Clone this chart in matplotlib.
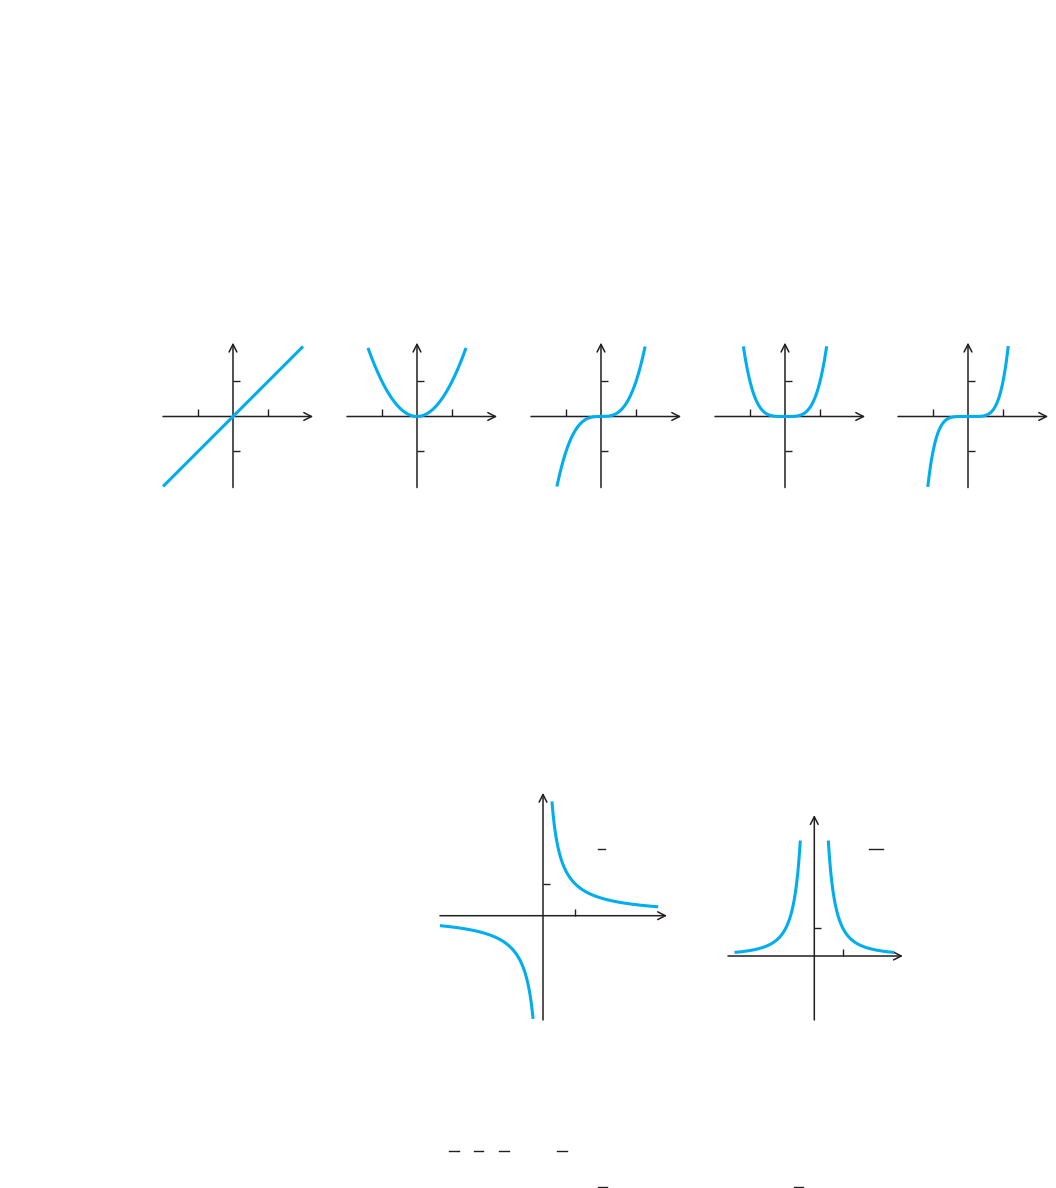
import matplotlib
matplotlib.use("Agg")
import numpy as np
import matplotlib.pyplot as plt
from matplotlib.lines import Line2D

W, H = 1056, 1188
BLUE = "#00aeef"
INK = "#231f20"

# top row: y = x^n
powers = [1, 2, 3, 4, 5]
power_xmax = [2.0, 1.4, 1.26, 1.19, 1.15]     # curve ends
power_origin_x = [233, 417, 601, 785, 968]    # pixel position of each y axis
power_origin_y = 416.5
power_unit = 35
power_xaxis = (-2.0, 2.29)
power_yaxis = (-2.03, 2.11)

# bottom row: y = 1/x and y = 1/x^2
recip_powers = [1, 2]
recip_left = [(-3.22, -0.31), (-2.82, -0.495)]
recip_right = [(0.28, 3.6), (0.495, 2.82)]
recip_origin = [(543, 915.7), (814.3, 956)]
recip_unit = [32, 28.3]
recip_xaxis = [(-3.22, 3.875), (-3.05, 3.13)]
recip_yaxis = [(-3.26, 3.84), (-2.26, 4.98)]

# left-over fraction bars of the (blank) labels, pixel coords x0, x1, y
label_bars = [(598, 605, 849), (869, 883, 849),
              (449, 459, 1151), (474, 483, 1151), (499, 509, 1151), (557, 567, 1151),
              (598, 607, 1187), (794, 803, 1187)]

fig = plt.figure(figsize=(W / 100, H / 100), dpi=100)


def panel(cx, cy, unit, xaxis, yaxis, xticks, yticks):
    pad = 0.3
    xl = (xaxis[0] - pad, xaxis[1] + pad)
    yl = (yaxis[0] - pad, yaxis[1] + pad)
    left = (cx + xl[0] * unit) / W
    bottom = 1 - (cy - yl[0] * unit) / H
    ax = fig.add_axes([left, bottom, (xl[1] - xl[0]) * unit / W, (yl[1] - yl[0]) * unit / H])
    ax.set_xlim(xl)
    ax.set_ylim(yl)
    ax.patch.set_visible(False)
    for s in ["top", "right"]:
        ax.spines[s].set_visible(False)
    ax.spines["left"].set_position("zero")
    ax.spines["bottom"].set_position("zero")
    ax.spines["left"].set_color("none")
    ax.spines["bottom"].set_color("none")
    ax.set_xticks(xticks)
    ax.set_yticks(yticks)
    ax.set_xticklabels([])
    ax.set_yticklabels([])
    ax.tick_params(direction="in", length=5, width=1, color=INK)
    arrow = dict(arrowstyle="->,head_length=0.55,head_width=0.28", lw=1.1,
                 color=INK, shrinkA=0, shrinkB=0)
    ax.annotate("", xy=(xaxis[1], 0), xytext=(xaxis[0], 0), arrowprops=arrow)
    ax.annotate("", xy=(0, yaxis[1]), xytext=(0, yaxis[0]), arrowprops=arrow)
    return ax


for n, xm, cx in zip(powers, power_xmax, power_origin_x):
    ax = panel(cx, power_origin_y, power_unit, power_xaxis, power_yaxis, [-1, 1], [-1, 1])
    x = np.linspace(-xm, xm, 400)
    ax.plot(x, x ** n, color=BLUE, lw=2.2, solid_capstyle="butt", clip_on=False, zorder=3)

for n, lo, hi, org, u, xa, ya in zip(recip_powers, recip_left, recip_right,
                                     recip_origin, recip_unit, recip_xaxis, recip_yaxis):
    ax = panel(org[0], org[1], u, xa, ya, [1], [1])
    for a, b in (lo, hi):
        x = np.linspace(a, b, 400)
        ax.plot(x, 1 / x ** n, color=BLUE, lw=2.2, solid_capstyle="butt", clip_on=False, zorder=3)

for x0, x1, y in label_bars:
    fig.add_artist(Line2D([x0 / W, x1 / W], [1 - y / H, 1 - y / H],
                          transform=fig.transFigure, color=INK, lw=1.0))

fig.savefig("out.png", dpi=100, facecolor="white")
